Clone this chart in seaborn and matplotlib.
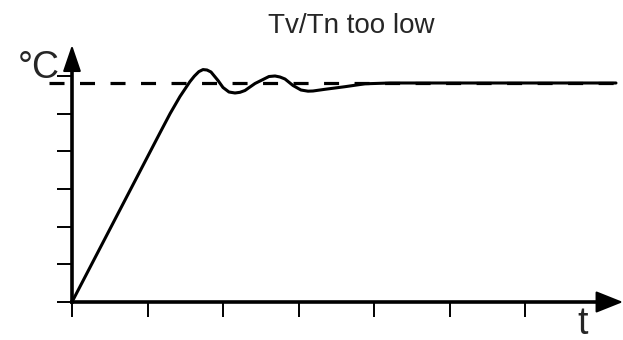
import matplotlib
matplotlib.use("Agg")
import matplotlib.pyplot as plt
import seaborn as sns

# step response (x in tick units, y in tick units)
time = [0.0, 1.166, 1.300, 1.430, 1.500, 1.560, 1.620, 1.680, 1.735, 1.788,
        1.841, 1.934, 2.000, 2.079, 2.159, 2.225, 2.291, 2.424, 2.556, 2.609,
        2.689, 2.755, 2.821, 2.927, 3.033, 3.126, 3.192, 3.351, 3.616, 3.881,
        4.212, 7.205]
temp = [0.0, 4.490, 5.000, 5.450, 5.660, 5.840, 5.990, 6.110, 6.165, 6.154,
        6.101, 5.875, 5.690, 5.570, 5.544, 5.562, 5.610, 5.796, 5.928, 5.981,
        5.995, 5.968, 5.915, 5.743, 5.623, 5.592, 5.597, 5.642, 5.711, 5.788,
        5.809, 5.809]
setpoint = 5.809
x_ticks = [0, 1, 2, 3, 4, 5, 6]
y_ticks = [0, 1, 2, 3, 4, 5, 6]
title = "Tv/Tn too low"

sns.set_style("white")
plt.rcParams["font.family"] = ["Liberation Sans", "DejaVu Sans"]

fig = plt.figure(figsize=(6.23, 3.40), dpi=100)
ax = fig.add_axes([0, 0, 1, 1])
ax.set_xlim(-72 / 75.5, 551 / 75.5)
ax.set_ylim(-38 / 37.7, 302 / 37.7)

# setpoint dashed line
ax.hlines(setpoint, -0.305, 7.205, colors="black", linewidth=2.3,
          linestyles=(0, (4.7, 4.85)))

# response curve
sns.lineplot(x=time, y=temp, color="black", linewidth=2.2, ax=ax)
ax.lines[-1].set_solid_joinstyle("round")

# axes through the origin
for side in ["top", "right"]:
    ax.spines[side].set_visible(False)
ax.spines["left"].set_position(("data", 0))
ax.spines["bottom"].set_position(("data", 0))
ax.spines["left"].set_bounds(0, 6.2)
ax.spines["bottom"].set_bounds(0, 7.0)
for side in ["left", "bottom"]:
    ax.spines[side].set_linewidth(2.6)
    ax.spines[side].set_color("black")

ax.set_xticks(x_ticks)
ax.set_yticks(y_ticks)
ax.set_xticklabels([])
ax.set_yticklabels([])
ax.tick_params(axis="both", direction="out", length=10.8, width=1.4,
               color="black", bottom=True, left=True)

# arrow heads
ax.annotate("", xy=(551 / 75.5, 0), xytext=(6.9, 0),
            arrowprops=dict(arrowstyle="-|>,head_length=0.85,head_width=0.34",
                            mutation_scale=20, color="black", lw=1.5,
                            shrinkA=0, shrinkB=0), annotation_clip=False)
ax.annotate("", xy=(0, 257 / 37.7), xytext=(0, 6.1),
            arrowprops=dict(arrowstyle="-|>,head_length=0.82,head_width=0.28",
                            mutation_scale=20, color="black", lw=1.5,
                            shrinkA=0, shrinkB=0), annotation_clip=False)

# labels
ax.text(3.70, 7.135, title, fontsize=20, ha="center", va="baseline")
ax.text(-0.159, 5.94, "°C", fontsize=27, ha="right", va="baseline")
ax.text(6.768, -0.86, "t", fontsize=27, ha="center", va="baseline")

fig.savefig("out.png", dpi=100)
